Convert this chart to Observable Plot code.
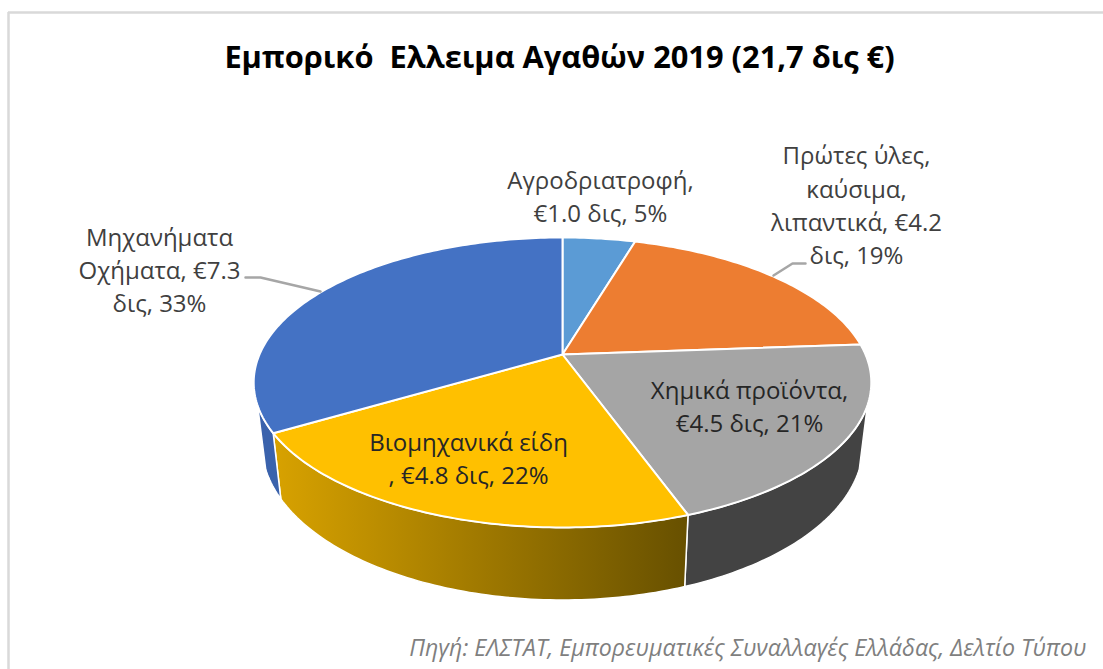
<!DOCTYPE html>
<html><head><meta charset="utf-8">
<script src="https://cdn.jsdelivr.net/npm/d3@7"></script>
<script src="https://cdn.jsdelivr.net/npm/@observablehq/plot@0.6"></script>
<style>html,body{margin:0;padding:0;background:#fff;overflow:hidden}svg{display:block}</style>
</head><body><div id="chart"></div>
<script>
const categories = ["Αγροδριατροφή","Πρώτες ύλες, καύσιμα, λιπαντικά","Χημικά προϊόντα","Βιομηχανικά είδη","Μηχανήματα Οχήματα"];
const values = [1.0, 4.2, 4.5, 4.8, 7.3];
const faceColors = ["#5B9BD5","#ED7D31","#A5A5A5","#FFC000","#4472C4"];
const sideColors = ["#355F9E","#B0581F","#434343","url(#goldSide)","#3A62AC"];
const labels = [
  "Αγροδριατροφή,\n€1.0 δις, 5%",
  "Πρώτες ύλες,\nκαύσιμα,\nλιπαντικά, €4.2\nδις, 19%",
  "Χημικά προϊόντα,\n€4.5 δις, 21%",
  "Βιομηχανικά είδη\n, €4.8 δις, 22%",
  "Μηχανήματα\nΟχήματα, €7.3\nδις, 33%"
];
const labelX = [600, 856, 749, 468, 159];
const labelY = [194, 203, 404, 456, 268];
const labelInk = ["#404040","#404040","#262626","#262626","#404040"];
const titleText = "Εμπορικό\u00a0 Ελλειμα Αγαθών 2019 (21,7 δις €)";
const captionText = "Πηγή: ΕΛΣΤΑΤ, Εμπορευματικές Συναλλαγές Ελλάδας, Δελτίο Τύπου";
const leaders = [
  {id:"orange", x:[773,792,805], y:[275,263,263]},
  {id:"blue", x:[245,260,320], y:[277,277,291]}
];

// Perspective view of the tilted disc: centre of the pie plus the two rims.
const cx = 562, cy = 354;
const top_ = {a:303, b:139.6, k:0.193, dy:0};
const bottom_ = {a:295, b:149.7, k:0.193, dy:60};
const view = (deg, r, p) => {
  const t = deg*Math.PI/180, u = r*Math.sin(t), v = r*Math.cos(t), d = 1 + p.k*v;
  return {x: cx + p.a*u/d, y: cy + p.dy - p.b*v/d};
};
const arc = (from, to, p) => {
  const n = Math.max(2, Math.ceil(Math.abs(to-from))), out = [];
  for (let i=0;i<=n;i++) out.push(view(from+(to-from)*i/n, 1, p));
  return out;
};
const total = d3.sum(values);
const cum = d3.cumsum(values);
const angles = values.map((v,i)=>({name:categories[i], start:(cum[i]-v)/total*360, end:cum[i]/total*360}));
const faces = angles.map(s=>{
  const c = view(0,0,top_);
  return [c, ...arc(s.start,s.end,top_), c];
});
const visFrom = 110, visTo = 250;
const sides = angles.map(s=>{
  const a = Math.max(s.start,visFrom), b = Math.min(s.end,visTo);
  if (b<=a) return null;
  const t = arc(a,b,top_), l = arc(b,a,bottom_);
  return [...t, ...l, t[0]];
});

const defsMark = () => {
  const d = d3.create("svg:defs");
  const g = d.append("linearGradient").attr("id","goldSide").attr("x1","0").attr("x2","1").attr("y1","0").attr("y2","0");
  g.append("stop").attr("offset","0").attr("stop-color","#D8A200");
  g.append("stop").attr("offset","1").attr("stop-color","#675000");
  return d.node();
};
const L = "Open Sans, Noto Sans, sans-serif";
const plot = Plot.plot({
  width:1103, height:669, margin:0,
  x:{domain:[0,1103], range:[0,1103], axis:null},
  y:{domain:[0,669], range:[0,669], axis:null},
  marks:[
    defsMark,
    Plot.ruleX([8],{y1:12,y2:669,stroke:"#d9d9d9",strokeWidth:2.5}),
    Plot.ruleY([12],{x1:8,x2:1103,stroke:"#d9d9d9",strokeWidth:2.5}),
    ...sides.map((poly,i)=> poly ? Plot.line(poly,{x:"x",y:"y",fill:sideColors[i],stroke:"#fff",strokeWidth:1.5,curve:"linear"}) : null),
    ...faces.map((poly,i)=> Plot.line(poly,{x:"x",y:"y",fill:faceColors[i],stroke:"#fff",strokeWidth:2,curve:"linear"})),
    ...leaders.map(l=>Plot.line(l.x.map((x,i)=>({x,y:l.y[i]})),{x:"x",y:"y",stroke:"#a6a6a6",strokeWidth:2.5,curve:"linear"})),
    Plot.text(labels,{x:(d,i)=>labelX[i],y:(d,i)=>labelY[i],text:d=>d,fill:(d,i)=>labelInk[i],fontSize:24,lineHeight:1.38,fontFamily:L,textAnchor:"middle"}),
    Plot.text([titleText],{x:[559],y:[58],text:d=>d,fontSize:30.8,fontWeight:700,fontFamily:L,fill:"#000",textAnchor:"middle"}),
    Plot.text([captionText],{x:[1086],y:[648],text:d=>d,fontSize:23.2,fontStyle:"italic",fontFamily:L,fill:"#7f7f7f",textAnchor:"end"})
  ]
});
document.getElementById("chart").append(plot);
</script></body></html>
